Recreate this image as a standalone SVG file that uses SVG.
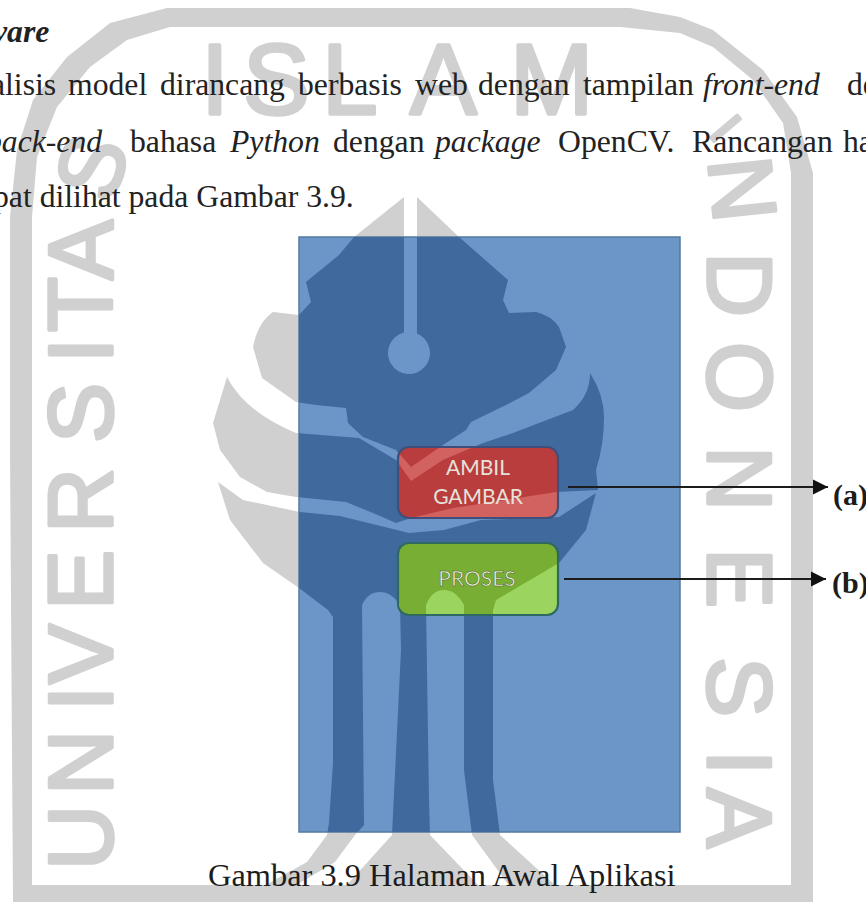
<svg xmlns="http://www.w3.org/2000/svg" xmlns:xlink="http://www.w3.org/1999/xlink" width="866" height="902" viewBox="0 0 866 902">
<style>
.wm{font-family:"Liberation Sans",Arial,sans-serif;fill:#d0d0d0;stroke:#d0d0d0;stroke-width:3.5;stroke-linejoin:round}
.body{font-family:"Liberation Serif","Times New Roman",serif;font-size:31.7px;fill:#222}
.it{font-style:italic}
.btn{font-family:Lato,"Open Sans",sans-serif;font-size:21px;text-anchor:middle}
.lab{font-family:"Liberation Serif","Times New Roman",serif;font-weight:bold;font-size:30px;fill:#1c1c1c}
.wire{stroke:#1c1c1c;stroke-width:2.2;fill:none}
</style>
<defs>
<marker id="arr" markerUnits="userSpaceOnUse" markerWidth="16" markerHeight="16" refX="15" refY="8" orient="auto"><path d="M0,0.5L15,8L0,15.5Z" fill="#111"/></marker>
<g id="logo">
<path d="M417,197L459,237L508,280L503,300L509,313L536,312Q552,316 559,327L566,347L556,370L529,393L506,405L471,422L466,430L446,443L411,467L396,450L363,437L348,423L346,408L316,405L296,402L262,378L253,347Q258,322 273,312L299,315L311,302L306,282L339,255L354,237L404,197V332.6A21,21 0 1 0 417,333.6Z"/>
<path d="M227,377Q245,412 296,433L359,438L396,460L411,481L443,460L483,443L513,433L573,410Q590,395 590,373Q604,395 604,417Q604,445 596,470L598,490L556,492L453,508L411,518L396,523L373,513L346,502L296,497L267,492L240,477L220,450L213,423Z"/>
<path d="M218,482L243,500L300,512L340,516L409,533L444,530L481,520L559,517L596,493L586,530L559,563L496,600L493,610V780L500,835L557,887L510,887L472,835L464,770V605Q456,590 444,590Q432,590 426,605L429,800L430,835L480,887L345,887L392,835L401,650L400,605Q392,592 380,592Q368,592 362,605L364,825L355,835L335,862L293,887L262,887L307,862L327,835L329,823L333,763V617L328,610L299,588L263,563L230,520Z"/>
</g>
<clipPath id="cScreen"><rect x="299" y="237" width="381" height="595"/></clipPath>
<clipPath id="cA"><rect x="398" y="447" width="160" height="71" rx="11"/></clipPath>
<clipPath id="cB"><rect x="398" y="543" width="160" height="72" rx="11"/></clipPath>
</defs>
<rect width="866" height="902" fill="#fff"/>
<g id="watermark">
<path fill="#d0d0d0" fill-rule="evenodd" d="M13,902L10,450V217L17,150L33,100L67,57L110,23L167,8H630L680,17L713,30L763,70L797,117L813,173V902ZM32,217V885H791V173L783,123L753,80L713,47L680,33L620,27H170L127,40L90,67L57,107L37,157Z"/>
<use xlink:href="#logo" href="#logo" fill="#d0d0d0"/>
<text class="wm" font-size="100" x="201 243 322 410 510" y="114">ISLAM</text>
<text class="wm" font-size="90" transform="translate(112,0) rotate(-90)" x="-870 -795 -711 -684 -610 -533 -443 -363 -332 -280 -205" y="0" rotate="0 0 0 0 0 0 0 0 0 0 18">UNIVERSITAS</text>
<text class="wm" font-size="90" transform="translate(708,0) rotate(90)" y="0"><tspan font-size="50" x="134" rotate="-40">I</tspan><tspan x="160 252 342 446 548 657 750 788" rotate="-6 0 0 0 0 0 0 0">NDONESIA</tspan></text>
</g>
<g id="heading"><text class="body" font-weight="bold" font-style="italic" x="-7" y="42">vare</text></g>
<g id="paragraph">
<text class="body" y="95"><tspan x="-9">alisis</tspan> <tspan x="68">model</tspan> <tspan x="160">dirancang</tspan> <tspan x="298">berbasis</tspan> <tspan x="415">web</tspan> <tspan x="478">dengan</tspan> <tspan x="583">tampilan</tspan> <tspan class="it" x="703">front-end</tspan> <tspan x="847">de</tspan></text>
<text class="body" y="152"><tspan class="it" x="-14">back-end</tspan> <tspan x="130">bahasa</tspan> <tspan class="it" x="230">Python</tspan> <tspan x="333">dengan</tspan> <tspan class="it" x="435">package</tspan> <tspan x="558">OpenCV.</tspan> <tspan x="692">Rancangan</tspan> <tspan x="843">ha</tspan></text>
<text class="body" x="-7" y="207">pat dilihat pada Gambar 3.9.</text>
</g>
<g id="node-screen">
<rect x="299" y="237" width="381" height="595" fill="#6c96c8" stroke="#56799f" stroke-width="1.5"/>
<use xlink:href="#logo" href="#logo" fill="#40699e" clip-path="url(#cScreen)"/>
</g>
<g id="node-ambil">
<rect x="398" y="447" width="160" height="71" rx="11" fill="#d2625f"/>
<use xlink:href="#logo" href="#logo" fill="#b83d3c" clip-path="url(#cA)"/>
<rect x="398" y="447" width="160" height="71" rx="11" fill="none" stroke="#3f4f7c" stroke-width="2.2"/>
<text class="btn" x="478" y="475" fill="#e6e2da">AMBIL</text>
<text class="btn" x="478" y="504" fill="#e6e2da">GAMBAR</text>
</g>
<g id="node-proses">
<rect x="398" y="543" width="160" height="72" rx="11" fill="#9bd55f"/>
<use xlink:href="#logo" href="#logo" fill="#77ae33" clip-path="url(#cB)"/>
<rect x="398" y="543" width="160" height="72" rx="11" fill="none" stroke="#2f6a62" stroke-width="2.2"/>
<text class="btn" x="477" y="586" fill="#eef3cc" stroke="#44563a" stroke-width="0.5">PROSES</text>
</g>
<g id="connectors">
<path class="wire" d="M568,487H828" marker-end="url(#arr)"/>
<path class="wire" d="M564,579H826" marker-end="url(#arr)"/>
</g>
<g id="labels">
<text class="lab" x="833" y="505">(a)</text>
<text class="lab" x="832" y="593">(b)</text>
</g>
<g id="caption"><text font-family="'Liberation Serif','Times New Roman',serif" font-size="32.4" fill="#1c1c1c" x="208" y="886">Gambar 3.9 Halaman Awal Aplikasi</text></g>
</svg>
